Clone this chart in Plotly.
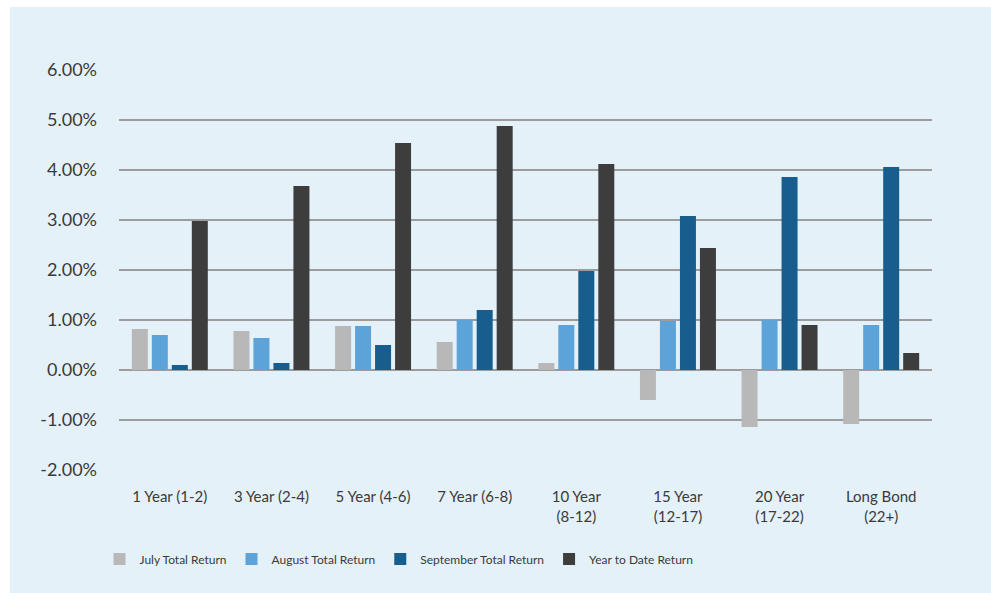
import plotly.graph_objects as go

categories = ["1 Year (1-2)", "3 Year (2-4)", "5 Year (4-6)", "7 Year (6-8)",
              "10 Year<br>(8-12)", "15 Year<br>(12-17)", "20 Year<br>(17-22)", "Long Bond<br>(22+)"]
july = [0.82, 0.78, 0.88, 0.56, 0.14, -0.60, -1.14, -1.08]
august = [0.70, 0.64, 0.88, 1.00, 0.90, 0.98, 1.00, 0.90]
september = [0.10, 0.14, 0.50, 1.20, 1.98, 3.08, 3.86, 4.06]
ytd = [2.98, 3.68, 4.54, 4.88, 4.12, 2.44, 0.90, 0.34]
series_names = ["July Total Return", "August Total Return", "September Total Return", "Year to Date Return"]
colors = ["#B8B8B8", "#5CA3D9", "#175D8D", "#3D3D3D"]
y_tickvals = [-2, -1, 0, 1, 2, 3, 4, 5, 6]
y_ticktext = ["-2.00%", "-1.00%", "0.00%", "1.00%", "2.00%", "3.00%", "4.00%", "5.00%", "6.00%"]

BG = "#E4F1F9"
TXT = "#3A3A3A"

fig = go.Figure()
for name, vals, col in zip(series_names, [july, august, september, ytd], colors):
    fig.add_trace(go.Bar(x=categories, y=vals, name=name, marker=dict(color=col, line=dict(width=0))))

L, R, T, B = 119, 59, 69, 122
W, H = 991, 593
pw, ph = W - L - R, H - T - B

fig.update_layout(
    width=W, height=H,
    margin=dict(l=L, r=R, t=T, b=B, pad=0),
    paper_bgcolor=BG, plot_bgcolor=BG,
    barmode="group", bargap=0.213, bargroupgap=0.2,
    font=dict(family="Lato, 'Open Sans', sans-serif", color=TXT),
    xaxis=dict(showgrid=False, showline=False, ticks="", tickfont=dict(size=15),
               ticklabelstandoff=15, fixedrange=True),
    yaxis=dict(range=[-2.02, 6.02], tickvals=y_tickvals, ticktext=y_ticktext,
               showgrid=True, gridcolor="#9C9C9C", gridwidth=2, zeroline=False,
               showline=False, ticks="", tickfont=dict(size=18), ticklabelstandoff=21),
    legend=dict(orientation="h", x=-0.024, xanchor="left", y=(T + ph - 559) / ph, yanchor="middle",
                font=dict(size=12, family="Lato, sans-serif"), itemwidth=30,
                bgcolor="rgba(0,0,0,0)", traceorder="normal"),
    shapes=[
        dict(type="rect", xref="paper", yref="paper", layer="below",
             x0=-L / pw, x1=(10 - L) / pw, y0=-B / ph, y1=(ph + T) / ph,
             fillcolor="white", line=dict(width=0)),
        dict(type="rect", xref="paper", yref="paper", layer="below",
             x0=-L / pw, x1=(W - L) / pw, y0=(ph + T - 7) / ph, y1=(ph + T) / ph,
             fillcolor="white", line=dict(width=0)),
    ],
)

fig.write_html("out.html")
